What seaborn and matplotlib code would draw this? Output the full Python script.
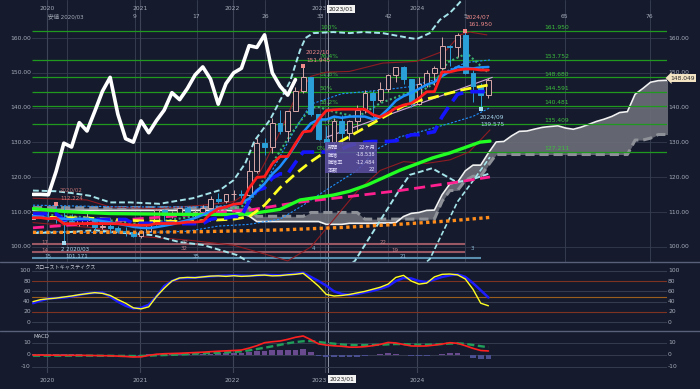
import matplotlib
matplotlib.use("Agg")
import matplotlib.pyplot as plt
import seaborn as sns
import pandas as pd
from matplotlib.patches import Rectangle

# ------------------------------------------------------------------ data
# month index: 0 = 2020/01 ... 57 = 2024/10 ; first candle = 2019/11
month_index = list(range(-2, 58))
opens = [108.0, 109.5, 108.6, 108.4, 107.9, 107.5, 106.9, 107.8, 107.9, 105.8,
         105.9, 105.5, 104.7, 104.3, 103.2, 104.7, 106.6, 110.7, 109.3, 109.6,
         111.1, 109.7, 110.0, 111.3, 113.9, 113.2, 115.1, 115.1, 115.0, 121.7,
         129.8, 128.7, 135.7, 133.3, 138.9, 144.7, 148.7, 138.1, 131.1, 130.1,
         136.2, 132.8, 136.3, 139.3, 144.3, 142.3, 145.5, 149.4, 151.7, 148.2,
         141.0, 146.9, 150.0, 151.3, 157.8, 157.3, 160.9, 150.0, 146.2, 143.6]
highs = [109.7, 109.7, 110.3, 112.22, 111.7, 109.4, 108.1, 109.9, 108.2, 107.1,
         106.6, 106.1, 105.7, 104.7, 104.9, 106.7, 110.9, 110.9, 110.2, 111.1,
         111.7, 110.8, 112.1, 114.7, 115.5, 115.2, 116.3, 116.3, 125.1, 131.2,
         131.3, 137.0, 139.4, 139.1, 145.9, 151.95, 148.8, 138.2, 134.8, 136.9,
         137.9, 136.6, 140.9, 145.1, 145.1, 147.4, 149.7, 151.7, 151.9, 148.2,
         148.8, 150.9, 151.97, 160.2, 158.0, 161.3, 161.95, 150.9, 147.2, 148.6]
lows = [107.9, 108.4, 107.6, 107.0, 101.17, 106.4, 106.0, 106.1, 104.2, 105.1,
        104.0, 104.0, 103.2, 102.9, 102.6, 104.4, 106.4, 107.5, 108.3, 109.2,
        109.1, 108.7, 109.1, 110.8, 112.5, 112.6, 113.5, 114.2, 114.7, 121.3,
        126.4, 126.9, 132.5, 130.4, 138.9, 144.2, 137.5, 130.6, 127.21, 128.1,
        129.6, 130.6, 133.5, 138.4, 137.2, 141.5, 144.4, 147.3, 146.7, 140.3,
        140.8, 145.9, 146.5, 150.8, 151.9, 154.6, 149.6, 141.7, 139.58, 142.9]
closes = [109.5, 108.6, 108.4, 107.9, 107.5, 106.9, 107.8, 107.9, 105.8, 105.9,
          105.5, 104.7, 104.3, 103.2, 104.7, 106.6, 110.7, 109.3, 109.6, 111.1,
          109.7, 110.0, 111.3, 113.9, 113.2, 115.1, 115.1, 115.0, 121.7, 129.8,
          128.7, 135.7, 133.3, 138.9, 144.7, 148.7, 138.1, 131.1, 130.1, 136.2,
          132.8, 136.3, 139.3, 144.3, 142.3, 145.5, 149.4, 151.7, 148.2, 141.0,
          146.9, 150.0, 151.3, 157.8, 157.3, 160.9, 150.0, 146.2, 143.6, 148.05]
tenkan = [108.4, 108.4, 108.1, 108.3, 106.7, 106.7, 106.7, 106.7, 106.7, 106.7,
          106.7, 106.7, 106.45, 106.3, 106.25, 106.25, 106.75, 106.75, 106.75, 106.85,
          107.15, 107.15, 107.35, 109.55, 110.95, 111.5, 112.3, 112.5, 116.9, 119.95,
          120.2, 123.9, 125.95, 126.0, 129.7, 133.05, 133.3, 136.6, 139.15, 139.4,
          139.55, 139.55, 139.55, 139.55, 138.0, 137.3, 138.45, 139.9, 140.75, 141.25,
          142.7, 144.55, 144.6, 150.25, 150.25, 150.8, 151.1, 151.1, 150.8, 150.8]
kijun = [109.5, 109.5, 109.5, 109.5, 107.9, 107.9, 107.9, 107.9, 107.9, 107.9,
         107.9, 107.9, 107.9, 106.8, 106.8, 106.8, 106.8, 106.8, 106.8, 106.7,
         106.7, 106.7, 106.7, 107.95, 108.35, 108.35, 108.75, 108.75, 113.15, 116.2,
         116.95, 119.8, 121.0, 121.0, 124.25, 127.25, 127.25, 127.25, 127.25, 127.25,
         128.15, 129.15, 129.7, 130.1, 130.3, 130.3, 130.3, 130.5, 131.35, 132.2,
         132.25, 132.7, 133.1, 137.45, 140.75, 143.85, 144.4, 144.6, 144.6, 144.6]
sma9 = [108.9, 108.64, 108.31, 108.16, 108.12, 107.91, 108.08, 108.06, 107.81, 107.41,
        107.07, 106.66, 106.26, 105.78, 105.53, 105.4, 105.71, 106.1, 106.51, 107.13,
        107.69, 108.32, 109.22, 110.24, 110.98, 111.47, 112.11, 112.71, 113.89, 116.12,
        118.2, 120.91, 123.07, 125.92, 129.21, 132.94, 135.51, 136.56, 136.59, 137.42,
        137.1, 137.43, 137.48, 137.43, 136.72, 137.54, 139.58, 141.98, 143.31, 144.22,
        145.4, 146.59, 147.37, 149.09, 150.4, 151.68, 151.49, 151.27, 151.56, 151.68]

cloud_index = list(range(-2, 83))
senkou_a = [110.5] * 26 + [110.4, 109.5, 108.9] + [107.3] * 9 + [106.5] * 3 + [106.8] * 4 + \
    [106.9, 106.9, 107.0, 108.75, 109.65, 109.9, 110.5, 110.6,
     115.0, 118.1, 118.6, 121.85, 123.5, 123.5, 127.0, 130.15, 130.3, 131.9,
     133.2, 133.3, 133.85, 134.35, 134.6, 134.8, 134.15, 133.8, 134.4, 135.2,
     136.05, 136.7, 137.5, 138.6, 138.85, 143.85, 145.5, 147.3, 147.75, 147.85,
     147.7, 147.7]
senkou_b = [111.3] * 29 + [108.8] * 7 + [109.9] * 7 + [108.0] * 10 + \
    [113.15, 116.2, 116.25, 119.1, 120.3, 120.3, 123.55] + [126.55] * 18 + \
    [130.7, 130.7, 131.25, 132.3, 132.3, 132.3, 132.3]

ma_yellow = [(-2, 108.6), (5, 108.3), (12, 107.5), (18, 107.3), (24, 108.0), (26, 108.7),
             (28, 112.0), (30, 117.0), (32, 121.0), (34, 124.5), (36, 127.5), (38, 130.5),
             (40, 133.0), (42, 135.5), (44, 138.0), (46, 140.5), (48, 142.0), (50, 143.0),
             (52, 144.2), (54, 145.3), (57, 146.5)]
ma_green = [(-2, 111.0), (2, 110.2), (8, 109.6), (16, 109.4), (24, 109.3), (26, 109.5),
            (30, 110.8), (32.6, 113.5), (36.9, 114.9), (39, 116.0), (41.3, 117.8),
            (45.5, 122.0), (49.8, 125.6), (52, 127.0), (55.9, 130.1), (57.2, 130.4)]
ma_pink = [(-2, 105.5), (4, 106.5), (10, 107.8), (17, 109.0), (22, 110.0), (26, 110.6),
           (32.6, 112.9), (39, 114.5), (45.5, 116.2), (52, 118.3), (57.2, 120.1)]
ma_orange = [(-2, 104.2), (10, 104.2), (20, 104.4), (30, 104.9), (38, 105.6), (46, 106.6),
             (52, 107.5), (57.2, 108.5)]
band_upper = [(-2, 116.2), (1, 116.0), (3, 115.5), (5.4, 114.7), (8, 112.8), (10.6, 112.8),
              (14.4, 112.4), (18.7, 114.0), (22.2, 116.3), (24, 119.2), (25.5, 124.0),
              (26.7, 130.5), (28.7, 136.5), (31.3, 147.5), (32.6, 156.5), (33.3, 160.0),
              (34.3, 161.4), (36.9, 161.7), (39, 161.4), (40.7, 161.7), (43.3, 161.4),
              (46.8, 160.0), (47.7, 159.7), (49.4, 161.4), (50.7, 165.2), (52, 167.2),
              (53, 169.5), (54, 172.0)]
band_lower = [(-2, 104.0), (2.8, 104.3), (6, 104.8), (10, 104.0), (13.5, 103.4), (17, 101.4),
              (20, 100.6), (24.4, 97.7), (26.5, 95.0), (31, 88.0), (35, 88.0), (39.7, 96.0),
              (45.3, 115.8), (46.8, 120.7), (49.7, 122.6), (52.9, 118.6), (55, 119.5),
              (57, 121.0)]
band_lower2 = [(43, 85.0), (49.4, 96.5), (53, 113.0), (55, 119.0), (57.2, 125.8)]
dotted_green = [(-2, 109.5), (5, 108.5), (12, 106.5), (18, 108.5), (22, 110.5), (25, 111.5),
                (27, 116.0), (29, 124.0), (31, 131.0), (32.6, 136.0), (34, 140.0),
                (35, 140.2), (37, 138.8), (40, 137.3), (43, 141.3), (46.5, 144.2),
                (48.5, 145.0), (50, 147.0), (51.7, 153.0), (54.2, 155.6), (56.9, 150.2)]
darkred_upper = [(-2, 114.0), (5, 113.5), (8, 111.5), (14, 111.0), (20, 112.0), (24, 113.0),
                 (26, 116.0), (28, 124.0), (30, 133.0), (32, 143.0), (34, 149.0),
                 (36, 150.2), (39, 150.4), (43.3, 152.8), (47.7, 153.3), (51.6, 156.6),
                 (53.3, 160.9), (54.6, 161.7), (56.8, 160.9)]
darkred_lower = [(-2, 107.0), (6, 105.5), (12, 103.0), (18, 102.0), (24, 100.5), (28, 98.0),
                 (31, 96.0), (34, 100.0), (37, 108.0), (40, 116.0), (43, 122.0),
                 (46, 124.5), (49, 124.0), (52, 125.0), (54.5, 127.3), (57.2, 133.6)]
thinblue_upper = [(-2, 112.0), (10, 111.5), (20, 111.5), (24, 112.0), (26, 113.0), (28, 118.0),
                  (30, 126.0), (32, 134.0), (34, 141.0), (38, 144.0), (43, 145.0),
                  (46.8, 146.0), (50, 148.0), (52, 151.0), (54.2, 153.0), (57.2, 153.7)]
thinblue_lower = [(-2, 104.5), (10, 104.0), (18, 104.5), (22, 106.0), (26, 106.5), (30, 108.0),
                  (33, 112.0), (36, 116.4), (40, 122.0), (42.5, 128.0), (45.5, 131.6),
                  (48, 133.0), (52, 135.5), (55, 137.5), (57.2, 140.0)]
trend_line = [(36, 131.5), (57.5, 148.7)]

fib_levels = [161.950, 153.752, 148.680, 144.591, 140.481, 135.409, 127.211]
fib_pcts = ["100%", "76.4%", "61.8%", "50%", "38.2%", "23.6%", "0%"]

stoch_fast = [40, 44, 45.5, 47, 49, 51, 53.5, 55.5, 57.5, 56, 52, 44, 37, 28, 26, 30, 50, 66, 80, 86,
              87, 86.5, 88, 89.5, 90, 89, 90.3, 89, 89.7, 91, 91.5, 90, 90.5, 92, 93, 95, 83, 70, 54, 51,
              52, 54, 57, 60, 64, 68, 74, 87, 91, 80, 74, 76, 88, 93, 93.6, 92, 84, 64, 37, 32]
stoch_slow = [37, 42, 46, 47, 48, 50, 53, 56, 57, 57.5, 50, 40, 32, 27, 28, 34, 50, 70, 80, 85.5,
              86, 86.5, 88, 89, 90, 90.5, 91, 90.5, 90, 91, 92, 91.5, 91, 92.5, 94, 96, 88, 80, 71, 60,
              55, 53, 55, 58, 61, 65, 70, 80, 86, 85, 80, 78, 83, 88, 91, 93, 88, 76, 62, 48]
macd_line = [-0.3, -0.3, -0.4, -0.4, -0.5, -0.5, -0.5, -0.6, -0.7, -0.8, -0.9, -1.2, -1.5, -1.9,
             -1.8, -0.6, 0.4, 0.8, 1.0, 1.2, 1.5, 1.8, 2.1, 2.5, 2.9, 3.2, 3.5, 3.9, 5.5, 7.5,
             10.0, 10.8, 11.4, 12.8, 14.5, 15.6, 12.5, 9.0, 8.0, 7.4, 7.0, 6.3, 6.3, 6.7, 7.5,
             8.6, 10.2, 9.8, 8.5, 7.3, 7.2, 7.3, 8.0, 8.9, 10.0, 9.5, 7.5, 5.3, 3.5, 3.1]
macd_signal = [-0.8, -0.8, -0.8, -0.8, -0.8, -0.8, -0.8, -0.8, -0.8, -0.9, -0.9, -1.0, -1.0, -1.1,
               -1.0, -0.8, -0.5, -0.3, -0.1, 0.1, 0.5, 0.9, 1.2, 1.4, 1.6, 1.9, 2.3, 2.8, 3.6, 4.7,
               5.8, 7.0, 8.2, 9.5, 10.5, 11.2, 11.4, 10.6, 9.8, 9.2, 8.5, 8.1, 8.0, 8.0, 8.1,
               8.3, 8.6, 8.9, 8.8, 8.5, 8.3, 8.3, 8.5, 8.9, 9.3, 9.5, 9.0, 8.1, 7.1, 6.2]
macd_hist = [0.4, 0.4, 0.3, 0.3, 0.2, 0.2, 0.2, 0.1, 0.1, 0.1, 0.0, -0.2, -0.4, -0.7, -0.7, 0.2,
             0.8, 1.0, 1.0, 1.0, 1.0, 0.9, 0.9, 1.0, 1.2, 1.3, 1.4, 1.5, 2.2, 3.0, 3.5, 3.6, 3.6,
             3.8, 4.2, 5.0, 2.5, -0.8, -1.8, -1.8, -1.6, -1.8, -1.7, -1.3, -0.6, 0.3, 1.2, 1.0,
             -0.3, -1.2, -1.1, -1.0, -0.5, 0.5, 1.3, 1.5, -0.3, -2.8, -3.6, -3.4]

# count / calendar guide positions (month index)
count_lines = [2.37, 11.2, 19.2, 28.1, 35.2, 44.0, 54.0, 66.9, 77.9]
count_labels = ["", "9", "17", "26", "33", "42", "5", "65", "76"]
year_lines = [-0.2, 11.85, 23.85, 35.8, 47.75]
year_labels = ["2020", "2021", "2022", "2023", "2024"]
cursor_month = 36.2
count_rows = [100.8, 98.6]
count_row_blue = 96.7

# ------------------------------------------------------------------ style
BG = "#151b2d"
GRID = "#343b4f"
TXT = "#a7acb9"
UPC = "#d9a8a8"
DNC = "#2a9fd8"
sns.set_theme(style="dark", rc={"axes.facecolor": BG, "figure.facecolor": BG,
                                "savefig.facecolor": BG, "patch.edgecolor": "none"})
plt.rcParams["font.family"] = ["DejaVu Sans", "Noto Sans CJK JP"]

W, H = 700, 389
fig = plt.figure(figsize=(7, 3.89), dpi=100)


def fx(x):
    return x / W


def fy(y):
    return 1 - y / H


X0, XS = 48.4, 7.72
XL = ((32 - X0) / XS, (667 - X0) / XS)
AXW = (667 - 32) / W

ax = fig.add_axes([fx(32), fy(262), AXW, 262 / H])
axs = fig.add_axes([fx(32), fy(331), AXW, (331 - 262) / H])
axm = fig.add_axes([fx(32), fy(373), AXW, (373 - 331) / H])


def sline(a, xs, ys, color, lw, ls="-", z=4, alpha=1.0):
    sns.lineplot(x=list(xs), y=list(ys), ax=a, color=color, linewidth=lw, linestyle=ls,
                 sort=False, estimator=None, errorbar=None, legend=False, zorder=z,
                 alpha=alpha)


def spts(a, pts, **kw):
    xs, ys = zip(*pts)
    sline(a, xs, ys, **kw)


# ------------------------------------------------------------------ main panel
for v in range(100, 170, 10):
    ax.axhline(v, color=GRID, lw=0.6, zorder=0.5)
for xv in count_lines:
    ax.axvline(xv, color=GRID, lw=0.7, zorder=0.5)
for a in (ax, axs, axm):
    for xv in year_lines:
        a.axvline(xv, color="#3d4458", lw=0.8, zorder=0.5)
    a.axvline(cursor_month, color="#8d93a3", lw=0.7, zorder=0.6)

# cloud
ax.fill_between(cloud_index, senkou_a, senkou_b, color="#6c6f79", alpha=0.9, lw=0, zorder=1)
sline(ax, cloud_index, senkou_b, "#8f9198", 2.2, ls=(0, (3, 1.6)), z=1.2)
sline(ax, cloud_index, senkou_a, "#f2f2f2", 1.2, z=1.3)

# fibonacci
ax.hlines(fib_levels, XL[0], XL[1], color="#1f9a1f", lw=0.9, zorder=1.5)
for lv, pc in zip(fib_levels, fib_pcts):
    lx = 317 if pc == "0%" else 320
    ax.text((lx - X0) / XS, lv + 0.95, pc, color="#3cbf3c", fontsize=4.3, va="center",
            ha="left", zorder=2)
    ax.text((557 - X0) / XS, lv + 0.95, f"{lv:.3f}", color="#3cbf3c", fontsize=4.3,
            va="center", ha="center", zorder=2)

# bottom count rows
ax.hlines(count_rows, XL[0], 54.0, color="#9a5864", lw=1.5, zorder=1.5)
ax.hlines([count_row_blue], XL[0], 56.0, color="#5b8fb0", lw=1.5, zorder=1.5)

# thin bands
spts(ax, darkred_upper, color="#8e1c22", lw=0.8, z=2.2)
spts(ax, darkred_lower, color="#8e1c22", lw=0.8, z=2.2)
spts(ax, thinblue_upper, color="#1e90ff", lw=0.8, ls=(0, (2, 1.5)), z=2.2)
spts(ax, thinblue_lower, color="#1e90ff", lw=0.8, ls=(0, (2, 1.5)), z=2.2)
spts(ax, band_upper, color="#a5e4ea", lw=1.4, ls=(0, (3, 1.5)), z=2.3)
spts(ax, band_lower, color="#a5e4ea", lw=1.4, ls=(0, (3, 1.5)), z=2.3)
spts(ax, band_lower2, color="#a5e4ea", lw=1.2, ls=(0, (3, 1.5)), z=2.3)
spts(ax, dotted_green, color="#3cb371", lw=1.5, ls=(0, (1, 1.2)), z=2.4)
spts(ax, trend_line, color="#d2a6dc", lw=0.8, z=2.4)

# candles
df = pd.DataFrame({"m": month_index, "open": opens, "high": highs, "low": lows,
                   "close": closes})
up = df[df.close >= df.open]
dn = df[df.close < df.open]
ax.vlines(up.m, up.low, up.high, color=UPC, lw=0.7, zorder=3)
ax.vlines(dn.m, dn.low, dn.high, color=DNC, lw=0.7, zorder=3)
ax.bar(up.m, up.close - up.open, bottom=up.open, width=0.62, facecolor=BG,
       edgecolor=UPC, lw=0.7, zorder=3)
ax.bar(dn.m, dn.open - dn.close, bottom=dn.close, width=0.62, color=DNC,
       edgecolor=DNC, lw=0.7, zorder=3)

# moving averages
spts(ax, ma_orange, color="#ff8c1a", lw=2.4, ls=(0, (1, 1)), z=4)
spts(ax, ma_pink, color="#ff1f8f", lw=2.0, ls=(0, (4, 2)), z=4)
spts(ax, ma_green, color="#22ff22", lw=2.4, z=4.1)
spts(ax, ma_yellow, color="#ffff22", lw=2.0, ls=(0, (4, 2)), z=4.2)
sline(ax, month_index, kijun, "#1414ff", 2.6, ls=(0, (4, 2)), z=4.3)
sline(ax, month_index, sma9, "#1e90ff", 1.8, z=4.4)
sline(ax, month_index, tenkan, "#ff1c1c", 2.0, z=4.5)
chikou_x = [m - 25 for m in month_index[25:]]
sline(ax, chikou_x, closes[25:], "#ffffff", 2.6, z=6)

# high/low markers
ax.scatter([1, 33, 54], [highs[3], highs[35], highs[56]], marker="s", s=9,
           color="#f08a8a", zorder=7, linewidths=0)
ax.scatter([2, 56], [lows[4], lows[58]], marker="s", s=9, color="#a8dcf0", zorder=7,
           linewidths=0)

for a, lo, hi in ((ax, 95.69, 170.91), (axs, -16.9, 116.9), (axm, -15.25, 19.75)):
    a.set_xlim(*XL)
    a.set_ylim(lo, hi)
    a.set_xticks([])
    a.set_yticks([])
    a.set_xlabel("")
    a.set_ylabel("")
    for s in a.spines.values():
        s.set_visible(False)

# axis labels main
ytr = ax.get_yaxis_transform()
for v in range(100, 170, 10):
    ax.text(-0.002, v, f"{v:.2f}", transform=ytr, ha="right", va="center",
            fontsize=4.3, color=TXT, clip_on=False)
    ax.text(1.0016, v, f"{v:.2f}", transform=ytr, ha="left", va="center",
            fontsize=4.3, color=TXT, clip_on=False)

# ------------------------------------------------------------------ stochastics
for v, c in ((100, GRID), (60, GRID), (40, GRID), (0, GRID), (80, "#7e3322"),
             (20, "#7e3322"), (50, "#9c5e1c")):
    axs.axhline(v, color=c, lw=0.8, zorder=0.7)
sline(axs, month_index, stoch_slow, "#1c1cff", 1.8, z=3)
sline(axs, month_index, stoch_fast, "#ffff22", 1.0, z=4)
ytr_s = axs.get_yaxis_transform()
for v in (100, 80, 60, 40, 20, 0):
    axs.text(-0.002, v, str(v), transform=ytr_s, ha="right", va="center",
             fontsize=4.3, color=TXT, clip_on=False)
    axs.text(1.0016, v, str(v), transform=ytr_s, ha="left", va="center",
             fontsize=4.3, color=TXT, clip_on=False)

# ------------------------------------------------------------------ MACD
for v in (10, 0, -10):
    axm.axhline(v, color=GRID, lw=0.7, zorder=0.7)
hist_colors = ["#6a4a8e" if h >= 0 else "#4a4f90" for h in macd_hist]
axm.bar(month_index, macd_hist, width=0.75, color=hist_colors, edgecolor="none",
        linewidth=0, zorder=2)
sline(axm, month_index, macd_signal, "#1f9e5a", 1.7, ls=(0, (3, 1.5)), z=3)
sline(axm, month_index, macd_line, "#ff2020", 1.2, z=4)
ytr_m = axm.get_yaxis_transform()
for v in (10, 0, -10):
    axm.text(-0.002, v, str(v), transform=ytr_m, ha="right", va="center",
             fontsize=4.3, color=TXT, clip_on=False)
    axm.text(1.0016, v, str(v), transform=ytr_m, ha="left", va="center",
             fontsize=4.3, color=TXT, clip_on=False)

# ------------------------------------------------------------------ separators
fig.add_artist(plt.Line2D([0, 1], [fy(262), fy(262)], color="#59607a", lw=1.0))
fig.add_artist(plt.Line2D([0, 1], [fy(331), fy(331)], color="#59607a", lw=1.0))

# ------------------------------------------------------------------ texts
fs = 4.3
for lab, xv in zip(year_labels, year_lines):
    px = X0 + XS * xv
    if lab == "2023":
        px -= 6
    fig.text(fx(px), fy(9), lab, ha="center", va="center", fontsize=fs, color=TXT)
    fig.text(fx(px), fy(380), lab, ha="center", va="center", fontsize=fs, color=TXT)
for lab, xv in zip(count_labels, count_lines):
    if lab:
        fig.text(fx(X0 + XS * xv), fy(17), lab, ha="center", va="center", fontsize=fs,
                 color=TXT)
fig.text(fx(48), fy(17), "安値 2020/03", ha="left", va="center", fontsize=4.0, color=TXT)

box = dict(boxstyle="square,pad=0.25", fc="#f2f2f2", ec="none")
fig.text(fx(341), fy(9), "2023/01", ha="center", va="center", fontsize=4.3,
         color="#222222", bbox=box)
fig.text(fx(342), fy(379), "2023/01", ha="center", va="center", fontsize=4.3,
         color="#222222", bbox=box)

fig.text(fx(670), fy(78), "148.049", ha="left", va="center", fontsize=4.3, color="#2a2a2a",
         bbox=dict(boxstyle="larrow,pad=0.25", fc="#f3e4c4", ec="none"))

# point labels
red_lbl = "#f08a8a"
blue_lbl = "#a8d4ec"
fig.text(fx(60), fy(190), "2020/02", fontsize=4.0, color="#c07070", va="center")
fig.text(fx(60), fy(198), "112.224", fontsize=4.0, color="#d08080", va="center")
fig.text(fx(306), fy(52), "2022/10", fontsize=4.2, color=red_lbl, va="center")
fig.text(fx(306), fy(60), "151.945", fontsize=4.2, color=red_lbl, va="center")
fig.text(fx(466), fy(17), "2024/07", fontsize=4.2, color=red_lbl, va="center")
fig.text(fx(468), fy(25), "161.950", fontsize=4.2, color=red_lbl, va="center")
fig.text(fx(480), fy(117), "2024/09", fontsize=4.2, color=blue_lbl, va="center")
fig.text(fx(480), fy(124), "139.575", fontsize=4.2, color=blue_lbl, va="center")
fig.text(fx(61), fy(249), "2 2020/03", fontsize=4.0, color=blue_lbl, va="center")
fig.text(fx(65), fy(257), "101.171", fontsize=4.0, color=blue_lbl, va="center")

rose = "#c08088"
bl = "#8fbcd8"
for t, x, y, c in (("17", 45, 243, rose), ("14", 45, 250, rose), ("15", 48, 257, bl),
                   ("22", 185, 242, rose), ("32", 184, 249, rose), ("35", 196, 257, bl),
                   ("4", 313, 249, bl), ("22", 383, 243, rose), ("19", 395, 250, rose),
                   ("21", 403, 257, bl), ("3", 472, 248, bl)):
    fig.text(fx(x), fy(y), t, fontsize=4.0, color=c, ha="center", va="center")

# info box
fig.add_artist(Rectangle((fx(325), fy(173)), 52 / W, 31 / H, transform=fig.transFigure,
                         facecolor="#5a4ea0", edgecolor="none", alpha=0.88, zorder=8))
info_keys = ["期間", "騰落", "騰落率", "本数"]
info_vals = ["22ヶ月", "-18.538", "-12.484", "22"]
for i, (k, v) in enumerate(zip(info_keys, info_vals)):
    yy = 147 + i * 7.5
    fig.text(fx(327.5), fy(yy), k, fontsize=3.7, color="#e8e4ff", va="center", ha="left",
             zorder=9)
    fig.text(fx(375.5), fy(yy), v, fontsize=3.7, color="#e8e4ff", va="center", ha="right",
             zorder=9)

fig.text(fx(34), fy(268), "スローストキャスティクス", fontsize=3.7, color="#c9ccd6",
         va="center")
fig.text(fx(34), fy(337), "MACD", fontsize=3.9, color="#c9ccd6", va="center")

fig.savefig("out.png", dpi=100)
